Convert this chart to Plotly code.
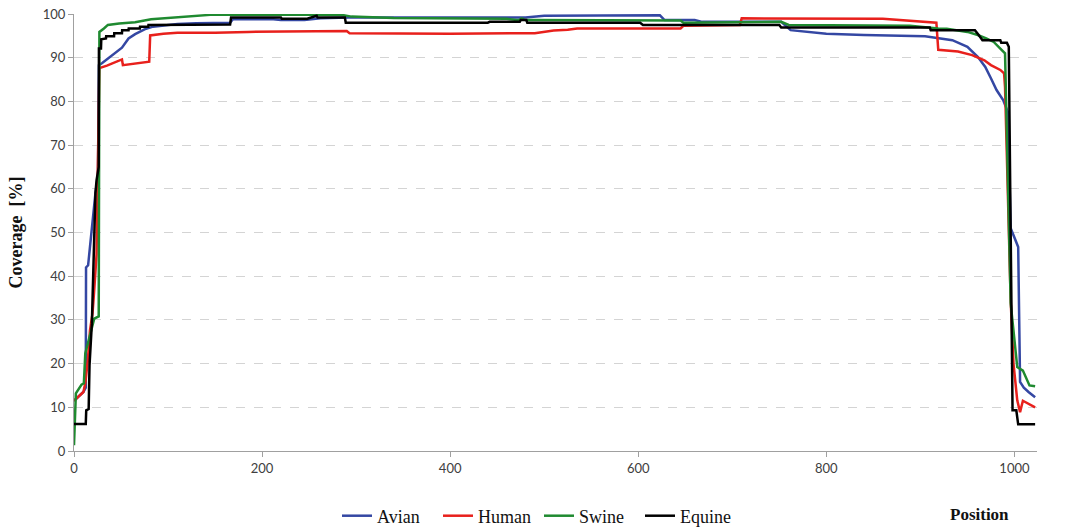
import plotly.graph_objects as go

# ---- data ----
avian_pos = [0, 10, 12.5, 12.8, 15, 19.4, 22.8, 25.5, 26.5, 30, 35, 40, 45, 51, 58, 65, 75, 84, 110, 130,
             166, 169, 212, 220, 245, 262, 292, 480, 500, 623, 628, 660, 668, 752, 762, 800, 840, 885, 905,
             934, 950, 961, 969, 975, 981, 988, 993, 996, 1000, 1004, 1006, 1010, 1015, 1022]
avian_val = [11.5, 13.5, 14.5, 42, 42.5, 52.1, 59, 63, 88.3, 88.8, 89.6, 90.6, 91.3, 92.3, 94.4, 95.4, 96.5, 97.1, 97.7, 97.9,
             98.0, 98.8, 98.8, 98.6, 98.6, 99.0, 99.2, 99.2, 99.6, 99.7, 98.6, 98.6, 98.2, 98.2, 96.3, 95.5, 95.2, 95.0, 94.9,
             94.0, 92.5, 90.2, 87.9, 85.3, 82.6, 80.3, 77.6, 51, 49, 46.7, 15.8, 14.5, 13.5, 12.3]

human_pos = [0, 5, 10, 12, 14.7, 17, 19.7, 21.5, 24, 25, 26, 27, 35, 45, 51, 52, 65, 80, 81, 95, 110, 150, 185,
             290, 293, 400, 490, 510, 525, 535, 645, 648, 708, 710, 860, 890, 917, 919, 940, 955, 968, 975, 985,
             989, 990, 996, 999, 1003, 1006, 1009, 1013, 1022]
human_val = [11.5, 12.5, 13.5, 15.5, 20.7, 27.6, 31.5, 36.8, 45, 60, 80, 87.6, 88.2, 89.0, 89.6, 88.3, 88.6, 89.1, 95.1, 95.5, 95.7, 95.7, 95.9,
             96.1, 95.6, 95.5, 95.6, 96.2, 96.4, 96.7, 96.7, 97.3, 97.5, 99.0, 98.9, 98.5, 98.0, 91.8, 91.4, 90.6, 89.4, 88.3, 87.2,
             86.4, 83.3, 34.5, 20, 11.6, 8.9, 11.5, 11.0, 10.0]

swine_pos = [0, 2, 8, 10.5, 12, 18, 21.5, 26.3, 26.5, 27, 31.8, 36, 48, 65, 82, 100, 110, 145, 282, 295,
             340, 460, 473, 476, 480, 645, 648, 740, 752, 760, 889, 919, 928, 950, 961, 970, 978, 985, 990, 996,
             1003, 1009, 1016, 1022]
swine_val = [1.3, 13.2, 15.2, 15.5, 22.3, 27, 30.3, 30.8, 70, 95.9, 96.7, 97.5, 97.8, 98.1, 98.8, 99.1, 99.3, 99.8, 99.9, 99.4,
             99.1, 98.9, 98.6, 99.0, 98.6, 98.5, 98.0, 98.2, 98.2, 97.5, 97.3, 96.7, 96.6, 95.9, 95.2, 94.4, 93.6, 92.1, 91.0, 33.8,
             19.2, 18.4, 15.0, 14.8]

equine_pos = [0, 12.5, 13, 15.6, 16.5, 19, 22.8, 24, 26.3, 26.5, 28.7, 29, 34, 34.2, 42.6, 42.8, 51, 51.2, 58, 58.2,
              70, 70.2, 79, 79.2, 166, 167, 220, 221, 248, 253, 258, 259, 288, 289, 440, 442, 474, 475, 481, 482,
              602, 605, 750, 752, 910, 911, 958, 962, 966, 985, 986, 992, 994, 996, 998, 1002, 1004, 1022]
equine_val = [6.2, 6.2, 9.3, 9.6, 19.6, 29.2, 59, 62, 65, 92.1, 92.1, 94.2, 94.4, 94.9, 94.9, 95.6, 95.6, 96.3, 96.3, 96.7,
              96.7, 97.1, 97.1, 97.5, 97.6, 99.2, 99.2, 98.9, 98.9, 99.2, 99.6, 99.2, 99.2, 98.0, 98.0, 98.2, 98.2, 98.6, 98.6, 98.0,
              98.0, 97.5, 97.5, 96.9, 96.9, 96.3, 96.3, 95.2, 94.0, 94.0, 93.4, 93.4, 92.5, 50, 9.3, 9.3, 6.1, 6.1]

series_names = ["Avian", "Human", "Swine", "Equine"]
series_colors = ["#3447a3", "#e8201c", "#1f8a30", "#000000"]
series_data = [(avian_pos, avian_val), (human_pos, human_val), (swine_pos, swine_val), (equine_pos, equine_val)]

x_ticks = [0, 200, 400, 600, 800, 1000]
y_ticks = [0, 10, 20, 30, 40, 50, 60, 70, 80, 90, 100]

fig = go.Figure()
for name, color, (px, pv) in zip(series_names, series_colors, series_data):
    fig.add_trace(go.Scatter(x=px, y=pv, mode="lines", name=name,
                             line=dict(color=color, width=2.5)))

W, H = 1065, 527
ml, mr, mt, mb = 74, 28, 14, 76
plot_w = W - ml - mr
plot_h = H - mt - mb

fig.update_layout(
    width=W, height=H,
    margin=dict(l=ml, r=mr, t=mt, b=mb, pad=0, autoexpand=False),
    paper_bgcolor="white", plot_bgcolor="white",
    showlegend=True,
    legend=dict(orientation="h", xref="paper", yref="paper",
                x=(539 - ml) / plot_w, xanchor="center",
                y=-(516 - (H - mb)) / plot_h, yanchor="middle",
                font=dict(family="Liberation Serif", size=18, color="#111"),
                entrywidth=56, itemwidth=30, bgcolor="rgba(0,0,0,0)"),
)
fig.update_xaxes(range=[0, 1024], tickvals=x_ticks, showgrid=False, zeroline=False, automargin=False,
                 showline=True, linecolor="#a0a0a0", linewidth=1,
                 ticks="outside", ticklen=5, tickcolor="#a0a0a0",
                 tickfont=dict(family="Lato", size=13, color="#404040"))
fig.update_yaxes(range=[0, 100], tickvals=y_ticks, showgrid=True, gridcolor="#d4d4d4",
                 griddash="dash", gridwidth=1, zeroline=False, automargin=False,
                 showline=True, linecolor="#a0a0a0", linewidth=1,
                 ticks="outside", ticklen=5, tickcolor="#a0a0a0",
                 tickfont=dict(family="Lato", size=13, color="#404040"))

fig.add_annotation(text="<b>Coverage  [%]</b>", textangle=-90, xref="paper", yref="paper",
                   x=(15 - ml) / plot_w, y=0.5, xanchor="center", yanchor="middle", showarrow=False,
                   font=dict(family="Liberation Serif", size=18, color="#111"))
fig.add_annotation(text="<b>Position</b>", xref="paper", yref="paper",
                   x=(979 - ml) / plot_w, y=-(514 - (H - mb)) / plot_h, xanchor="center", yanchor="middle",
                   showarrow=False, font=dict(family="Liberation Serif", size=17, color="#111"))

fig.write_html("out.html", config={"displayModeBar": False},
               post_script="document.body.style.margin='0px';document.body.style.padding='0px';"
                           "document.body.style.overflow='hidden';")
